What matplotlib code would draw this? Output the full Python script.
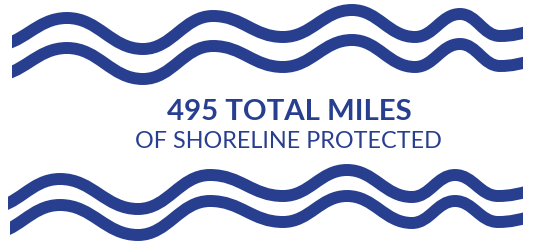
import matplotlib
matplotlib.use("Agg")
import matplotlib.pyplot as plt
from matplotlib.path import Path
from matplotlib.patches import PathPatch, Rectangle

# Wave extrema (x, y) in pixel-like coordinates (y downward)
top_wave_x = [-8, 67, 143, 213, 283, 352, 415, 460, 500, 560]
top_wave_y = [46, 18, 49, 16, 37, 10, 37, 14, 36, 26]
top_offset = 30
bottom_wave_x = [-12, 60, 138, 210, 283, 347, 412, 455, 498, 560]
bottom_wave_y = [208, 179, 209, 175, 196, 170, 197, 175, 196, 186]
bottom_offset = 26

title_text = "495 TOTAL MILES"
subtitle_text = "OF SHORELINE PROTECTED"

COLOR = "#283F8F"
W, H = 551, 242

fig = plt.figure(figsize=(W / 100, H / 100), dpi=100)
ax = fig.add_axes([0, 0, 1, 1])
ax.set_xlim(0, W)
ax.set_ylim(H, 0)
ax.axis("off")


def wave_path(xs, ys, dy=0, k=0.42):
    verts = [(xs[0], ys[0] + dy)]
    codes = [Path.MOVETO]
    for i in range(len(xs) - 1):
        x0, y0 = xs[i], ys[i] + dy
        x1, y1 = xs[i + 1], ys[i + 1] + dy
        d = (x1 - x0) * k
        verts += [(x0 + d, y0), (x1 - d, y1), (x1, y1)]
        codes += [Path.CURVE4] * 3
    return Path(verts, codes)


def draw_wave(xs, ys, dy, x_left, x_right):
    clip = Rectangle((x_left, -50), x_right - x_left, H + 100,
                     transform=ax.transData, visible=False)
    ax.add_patch(clip)
    p = PathPatch(wave_path(xs, ys, dy), facecolor="none", edgecolor=COLOR,
                  lw=8.6, capstyle="butt", joinstyle="round")
    ax.add_patch(p)
    p.set_clip_path(clip)


draw_wave(top_wave_x, top_wave_y, 0, 12, 523)
draw_wave(top_wave_x, top_wave_y, top_offset, 12, 523)
draw_wave(bottom_wave_x, bottom_wave_y, 0, 8, 523)
draw_wave(bottom_wave_x, bottom_wave_y, bottom_offset, 10, 523)

ax.text(289.5, 120, title_text, ha="center", va="baseline", color=COLOR,
        fontsize=21.2, fontweight="bold", family="Lato")
ax.text(288.5, 148, subtitle_text, ha="center", va="baseline", color=COLOR,
        fontsize=16.8, family="Lato")

fig.savefig("out.png", dpi=100)
